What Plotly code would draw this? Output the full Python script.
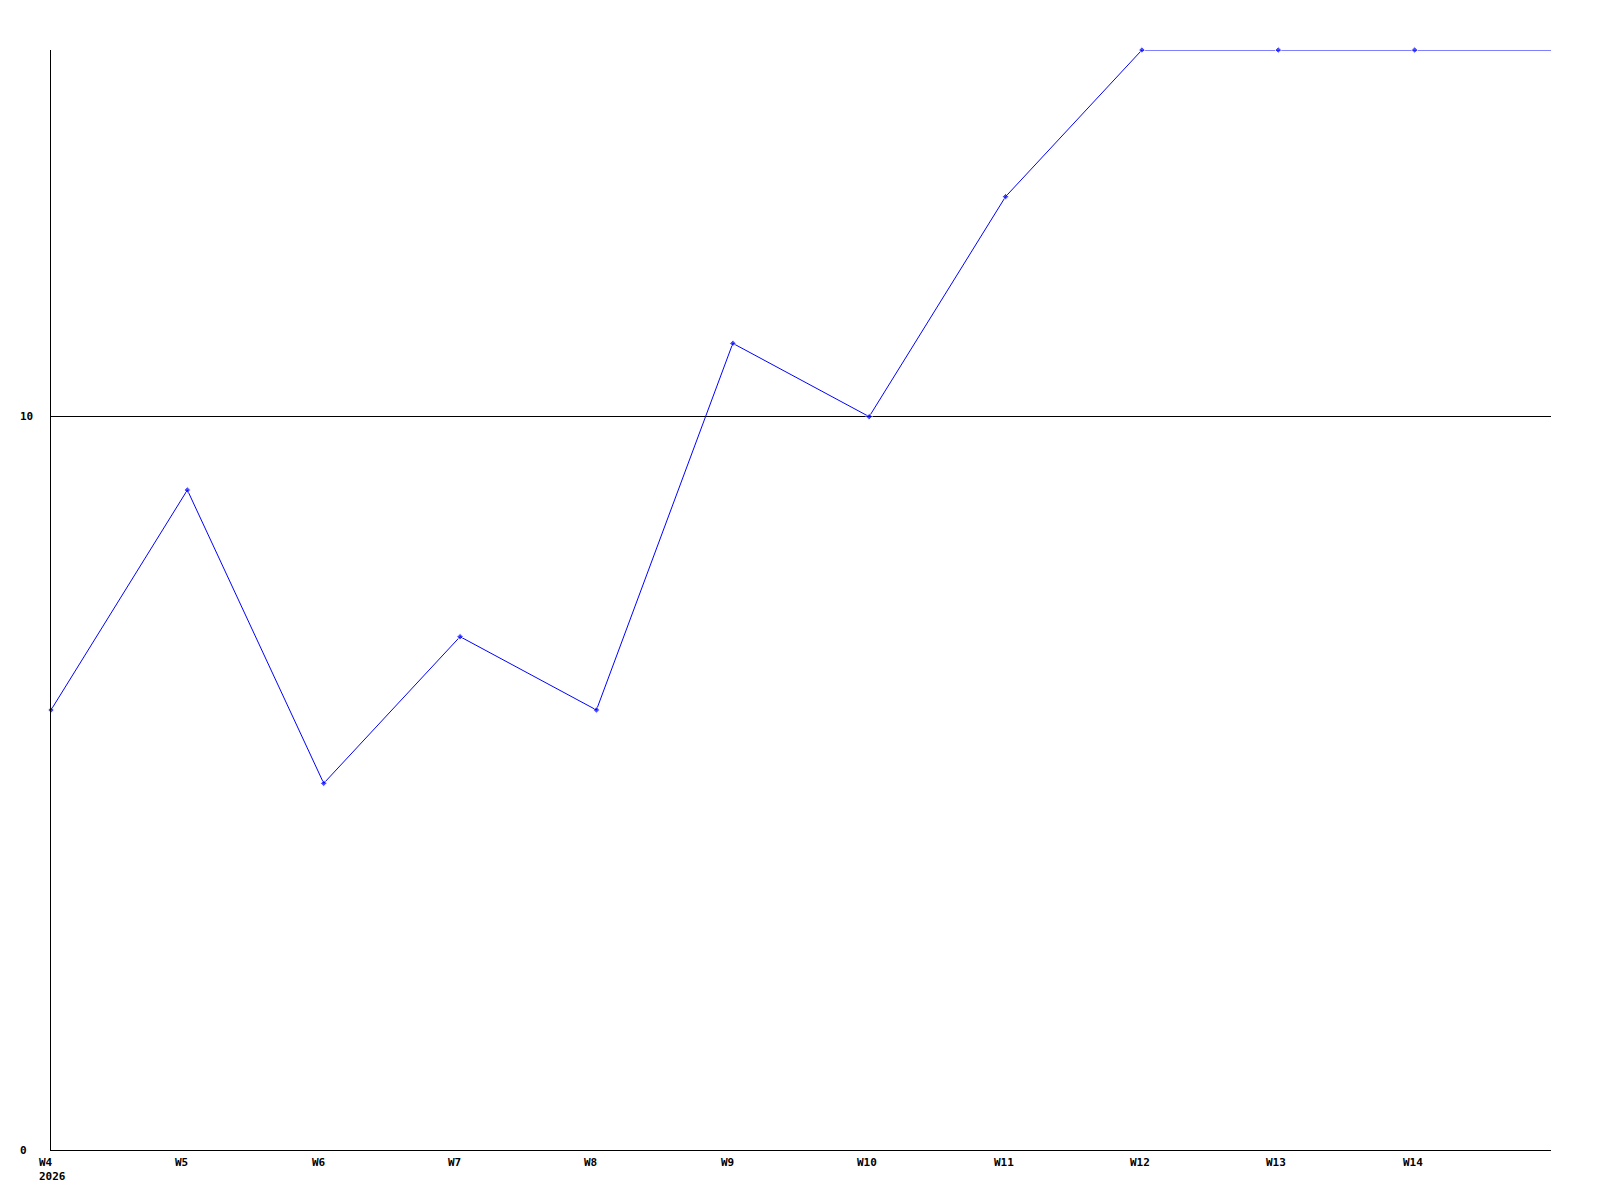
import plotly.graph_objects as go

weeks = ["W4", "W5", "W6", "W7", "W8", "W9", "W10", "W11", "W12", "W13", "W14", "W15"]
values = [6, 9, 5, 7, 6, 11, 10, 13, 15, 15, 15, 15]
tick_labels = ["W4<br>2026", "W5", "W6", "W7", "W8", "W9", "W10", "W11", "W12", "W13", "W14"]
y_ticks = [0, 10]

x_idx = list(range(len(weeks)))
marker_sizes = [5] * (len(weeks) - 1) + [0]

fig = go.Figure()
fig.add_trace(go.Scatter(
    x=x_idx, y=values, mode="lines+markers",
    line=dict(color="#0000ff", width=1),
    marker=dict(color="#0000ff", size=marker_sizes, symbol="diamond"),
    cliponaxis=False, showlegend=False,
))

font = dict(family="DejaVu Sans Mono", size=11, color="black", weight="bold")

annotations = []
for i, lab in enumerate(tick_labels):
    annotations.append(dict(
        x=i, y=0, xref="x", yref="paper", text=lab, showarrow=False,
        xanchor="left", yanchor="top", align="left", xshift=-14, yshift=-4,
        font=font,
    ))
for v in y_ticks:
    annotations.append(dict(
        x=0, y=v, xref="paper", yref="y", text=str(v), showarrow=False,
        xanchor="left", yanchor="middle", align="left", xshift=-33,
        font=font,
    ))

fig.update_layout(
    width=1600, height=1200,
    margin=dict(l=43, r=57, t=42, b=58),
    paper_bgcolor="white", plot_bgcolor="white",
    annotations=annotations,
    xaxis=dict(
        range=[0, len(weeks) - 1], tickvals=x_idx[:-1], showticklabels=False,
        showgrid=False, zeroline=False, showline=True, linecolor="black", linewidth=1,
        ticks="",
    ),
    yaxis=dict(
        range=[0, 15], tickvals=y_ticks, showticklabels=False,
        showgrid=True, gridcolor="black", gridwidth=1, zeroline=False,
        showline=True, linecolor="black", linewidth=1, ticks="",
    ),
)
fig.write_html("out.html")
